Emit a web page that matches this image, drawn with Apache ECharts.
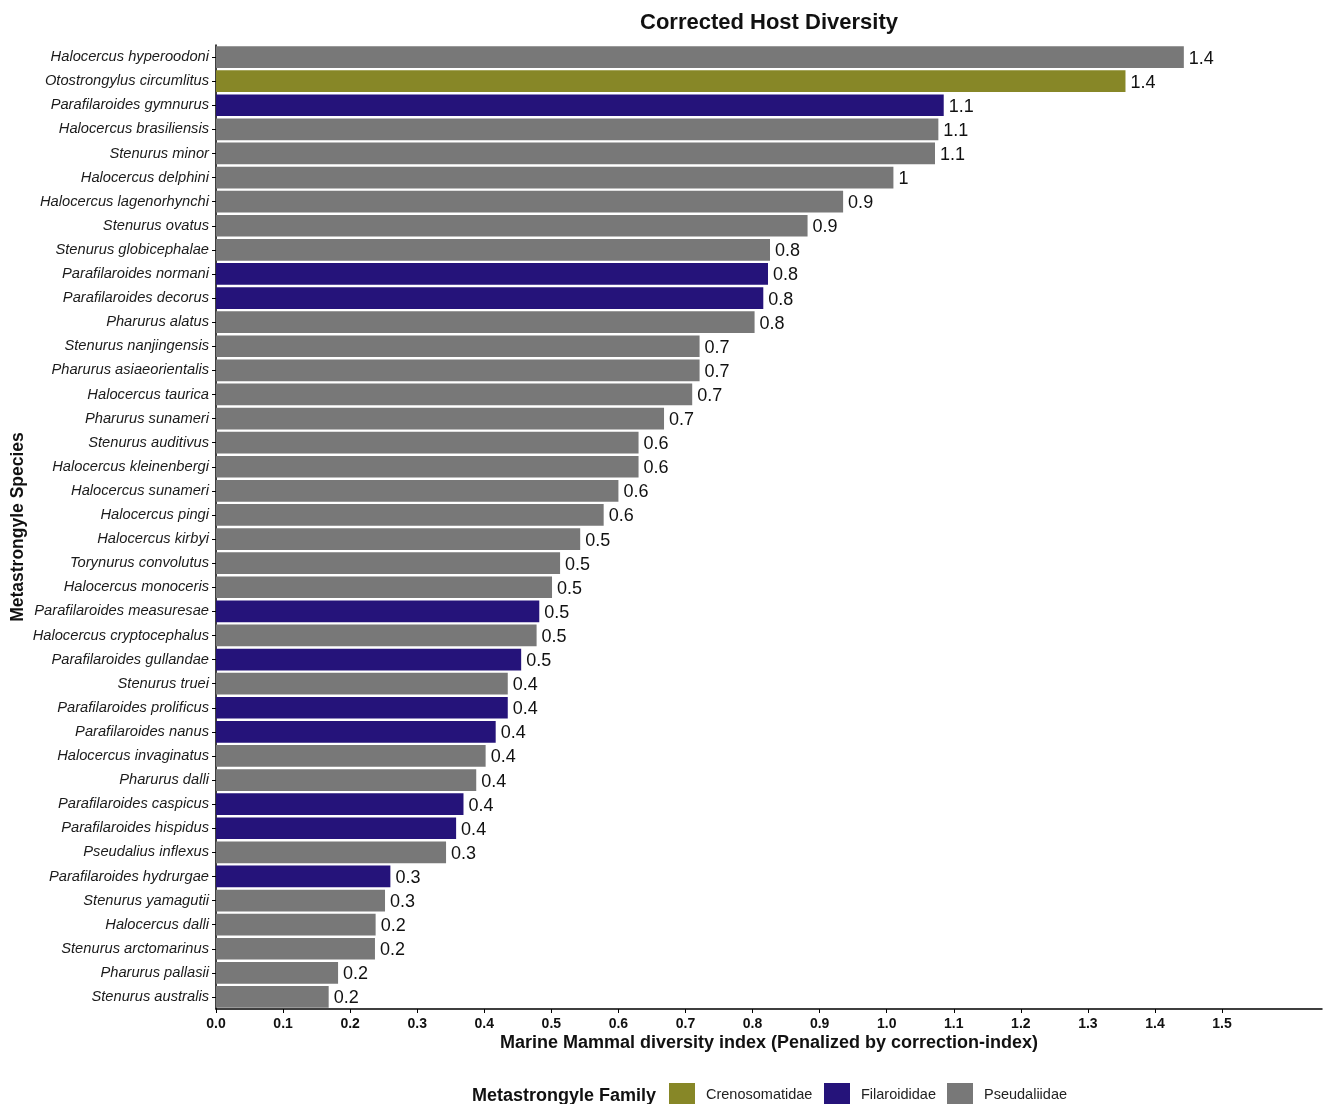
<!DOCTYPE html>
<html>
<head>
<meta charset="utf-8">
<title>Corrected Host Diversity</title>
<script src="https://cdn.jsdelivr.net/npm/echarts@6/dist/echarts.min.js"></script>
<style>
  html, body { margin: 0; padding: 0; background: #ffffff; }
  #chart { width: 1325px; height: 1104px; }
</style>
</head>
<body>
<div id="chart"></div>
<script>
// Metastrongyle species, listed from top to bottom of the chart
const species = [
  'Halocercus hyperoodoni', 'Otostrongylus circumlitus', 'Parafilaroides gymnurus',
  'Halocercus brasiliensis', 'Stenurus minor', 'Halocercus delphini',
  'Halocercus lagenorhynchi', 'Stenurus ovatus', 'Stenurus globicephalae',
  'Parafilaroides normani', 'Parafilaroides decorus', 'Pharurus alatus',
  'Stenurus nanjingensis', 'Pharurus asiaeorientalis', 'Halocercus taurica',
  'Pharurus sunameri', 'Stenurus auditivus', 'Halocercus kleinenbergi',
  'Halocercus sunameri', 'Halocercus pingi', 'Halocercus kirbyi',
  'Torynurus convolutus', 'Halocercus monoceris', 'Parafilaroides measuresae',
  'Halocercus cryptocephalus', 'Parafilaroides gullandae', 'Stenurus truei',
  'Parafilaroides prolificus', 'Parafilaroides nanus', 'Halocercus invaginatus',
  'Pharurus dalli', 'Parafilaroides caspicus', 'Parafilaroides hispidus',
  'Pseudalius inflexus', 'Parafilaroides hydrurgae', 'Stenurus yamagutii',
  'Halocercus dalli', 'Stenurus arctomarinus', 'Pharurus pallasii',
  'Stenurus australis'
];

// Corrected host diversity index per species
const diversity = [
  1.443, 1.356, 1.085,
  1.077, 1.072, 1.010,
  0.935, 0.882, 0.826,
  0.823, 0.816, 0.803,
  0.721, 0.721, 0.710,
  0.668, 0.630, 0.630,
  0.600, 0.578, 0.543,
  0.513, 0.501, 0.482,
  0.478, 0.455, 0.435,
  0.435, 0.417, 0.402,
  0.388, 0.369, 0.358,
  0.343, 0.260, 0.252,
  0.238, 0.237, 0.182,
  0.168
];

// Family of each species
const family = [
  'Pseudaliidae', 'Crenosomatidae', 'Filaroididae',
  'Pseudaliidae', 'Pseudaliidae', 'Pseudaliidae',
  'Pseudaliidae', 'Pseudaliidae', 'Pseudaliidae',
  'Filaroididae', 'Filaroididae', 'Pseudaliidae',
  'Pseudaliidae', 'Pseudaliidae', 'Pseudaliidae',
  'Pseudaliidae', 'Pseudaliidae', 'Pseudaliidae',
  'Pseudaliidae', 'Pseudaliidae', 'Pseudaliidae',
  'Pseudaliidae', 'Pseudaliidae', 'Filaroididae',
  'Pseudaliidae', 'Filaroididae', 'Pseudaliidae',
  'Filaroididae', 'Filaroididae', 'Pseudaliidae',
  'Pseudaliidae', 'Filaroididae', 'Filaroididae',
  'Pseudaliidae', 'Filaroididae', 'Pseudaliidae',
  'Pseudaliidae', 'Pseudaliidae', 'Pseudaliidae',
  'Pseudaliidae'
];

const families = ['Crenosomatidae', 'Filaroididae', 'Pseudaliidae'];
const familyColors = ['#878727', '#25137A', '#787878'];

// x-axis tick positions
const xTicks = [0.0, 0.1, 0.2, 0.3, 0.4, 0.5, 0.6, 0.7, 0.8, 0.9, 1.0, 1.1, 1.2, 1.3, 1.4, 1.5];

const FONT = '"Liberation Sans", Arial, Helvetica, sans-serif';

const series = families.map((fam, k) => ({
  name: fam,
  type: 'bar',
  stack: 'family',
  barWidth: '90%',
  itemStyle: { color: familyColors[k] },
  label: {
    show: true,
    position: 'right',
    distance: 5,
    offset: [0, 1.5],
    color: '#111111',
    fontFamily: FONT,
    fontSize: 18,
    formatter: p => String(Math.round(p.value * 10) / 10)
  },
  emphasis: { disabled: true },
  data: diversity.map((v, i) => (family[i] === fam ? v : '-'))
}));

const legendLefts = [669, 824, 947];
const legends = families.map((fam, k) => ({
  data: [fam],
  left: legendLefts[k],
  top: 1083,
  padding: 0,
  itemWidth: 26,
  itemHeight: 24,
  icon: 'rect',
  selectedMode: false,
  textStyle: { fontFamily: FONT, fontSize: 14.5, color: '#222222', padding: [0, 0, 0, 6] }
}));

const chart = echarts.init(document.getElementById('chart'), null, { renderer: 'canvas' });
chart.setOption({
  backgroundColor: '#ffffff',
  animation: false,
  title: [
    {
      text: 'Corrected Host Diversity',
      left: 764,
      top: 7,
      textAlign: 'center',
      textStyle: { fontFamily: FONT, fontSize: 22, fontWeight: 'bold', color: '#111111' }
    },
    {
      text: 'Metastrongyle Family',
      left: 467,
      top: 1082,
      textStyle: { fontFamily: FONT, fontSize: 18, fontWeight: 'bold', color: '#111111' }
    }
  ],
  legend: legends,
  grid: { left: 216, right: 3, top: 45, bottom: 95, containLabel: false, outerBoundsMode: 'none' },
  xAxis: {
    type: 'value',
    min: 0,
    max: 1.649,
    name: 'Marine Mammal diversity index (Penalized by correction-index)',
    nameLocation: 'middle',
    nameGap: 25,
    nameMoveOverlap: false,
    nameTextStyle: { fontFamily: FONT, fontSize: 18, fontWeight: 'bold', color: '#111111' },
    axisLine: { show: true, lineStyle: { color: '#000000', width: 1.5 } },
    axisTick: { show: true, length: 4, lineStyle: { color: '#000000' }, customValues: xTicks },
    axisLabel: {
      fontFamily: FONT, fontSize: 14, fontWeight: 'bold', color: '#111111', margin: 8,
      customValues: xTicks,
      formatter: v => Number(v).toFixed(1)
    },
    splitLine: { show: false }
  },
  yAxis: {
    type: 'category',
    data: species,
    inverse: true,
    name: 'Metastrongyle Species',
    nameLocation: 'middle',
    nameRotate: 90,
    nameGap: 189,
    nameMoveOverlap: false,
    nameTextStyle: { fontFamily: FONT, fontSize: 17.5, fontWeight: 'bold', color: '#111111' },
    axisLine: { show: true, lineStyle: { color: '#000000', width: 1.5 } },
    axisTick: { show: true, length: 4, alignWithLabel: true, lineStyle: { color: '#000000' } },
    axisLabel: {
      fontFamily: FONT, fontSize: 14.7, fontStyle: 'italic', color: '#1a1a1a', margin: 7,
      padding: [3, 0, 0, 0],
      interval: 0
    },
    splitLine: { show: false }
  },
  series: series
});
</script>
</body>
</html>
